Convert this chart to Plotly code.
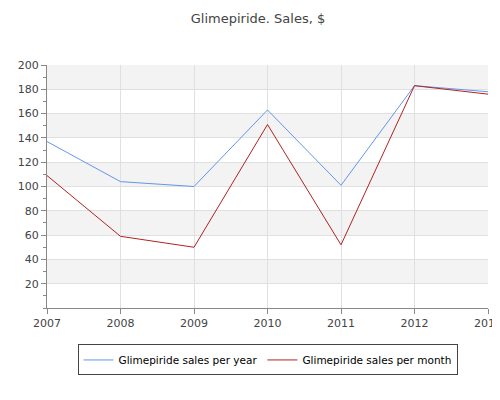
import plotly.graph_objects as go

years = [2007, 2008, 2009, 2010, 2011, 2012, 2013]
per_year = [137, 104, 100, 163, 101, 183, 178]
per_month = [109, 59, 50, 151, 52, 183, 176]

fig = go.Figure()
fig.add_trace(go.Scatter(x=years, y=per_year, mode="lines", name="Glimepiride sales per year",
                         line=dict(color="#6495ED", width=1)))
fig.add_trace(go.Scatter(x=years, y=per_month, mode="lines", name="Glimepiride sales per month",
                         line=dict(color="#B22222", width=1)))
for lo in [20, 60, 100, 140, 180]:
    fig.add_shape(type="rect", xref="paper", x0=0, x1=1, yref="y", y0=lo, y1=lo + 20,
                  fillcolor="#F3F3F3", line_width=0, layer="below")

fig.update_layout(
    width=500, height=400, plot_bgcolor="white", paper_bgcolor="white",
    margin=dict(l=39, r=20, t=57, b=100, autoexpand=False),
    font=dict(family="DejaVu Sans", size=11, color="#444"),
    title=dict(text="Glimepiride. Sales, $", x=0.5, xanchor="center", y=0.985, yanchor="top",
               font=dict(size=13, color="#444")),
    showlegend=True,
    legend=dict(orientation="h", x=0.5, xanchor="center", y=-0.15, yanchor="top",
                bordercolor="#444", borderwidth=1, font=dict(size=10.5, color="#000")),
)
fig.update_xaxes(range=[2007, 2013], dtick=1, showgrid=True, gridcolor="#E0E0E0", automargin=False,
                 showline=True, linecolor="#888", ticks="outside", ticklen=5, tickcolor="#888",
                 zeroline=False)
fig.update_yaxes(range=[0, 200], showgrid=True, gridcolor="#E0E0E0", automargin=False,
                 showline=True, linecolor="#888", ticks="outside", ticklen=5, tickcolor="#888",
                 minor=dict(dtick=10, ticks="outside", ticklen=3, tickcolor="#888"),
                 zeroline=False, tickvals=[20, 40, 60, 80, 100, 120, 140, 160, 180, 200])
fig.write_html("out.html")
